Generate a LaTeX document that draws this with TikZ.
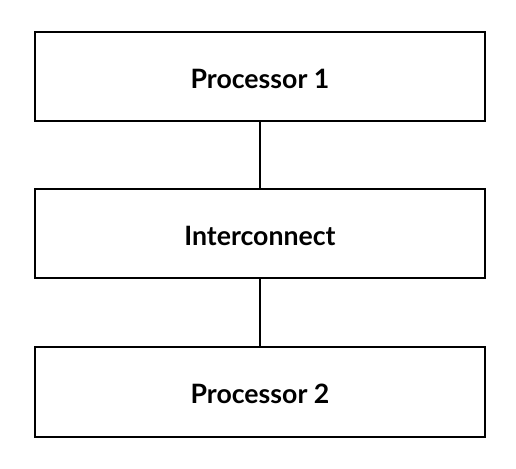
\documentclass[tikz,border=0pt]{standalone}
\usepackage{fontspec}
\setmainfont{Lato}
\begin{document}
\begin{tikzpicture}[x=0.75pt,y=-0.75pt,
  blk/.style={draw=black,line width=1.4pt,minimum width=450*0.75pt,inner sep=0pt,text height=17.4pt,text depth=0pt,font=\fontsize{20}{24}\selectfont\bfseries},
  link/.style={draw=black,line width=1.4pt}]
\useasboundingbox (0,0) rectangle (516,468);
\node[blk,minimum height=89*0.75pt] (p1) at (260,76.5) {Processor 1};
\node[blk,minimum height=89*0.75pt] (ic) at (260,233.5) {Interconnect};
\node[blk,minimum height=90*0.75pt] (p2) at (260,392) {Processor 2};
\draw[link] (p1) -- (ic);
\draw[link] (ic) -- (p2);
\end{tikzpicture}
\end{document}
